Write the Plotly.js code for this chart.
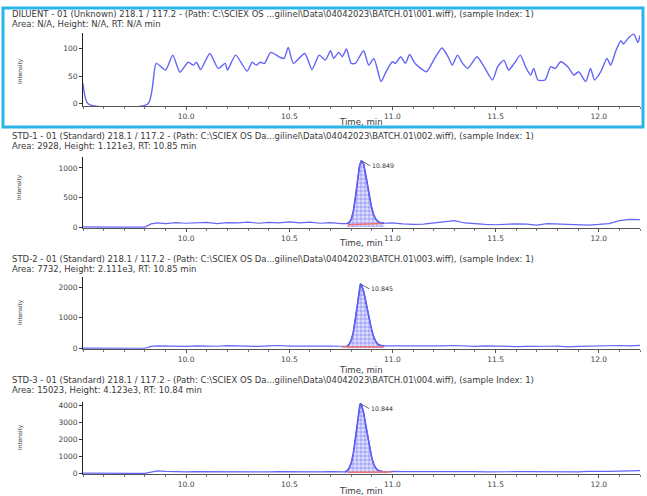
<!DOCTYPE html>
<html>
<head>
<meta charset="utf-8">
<script src="https://cdn.plot.ly/plotly-3.0.1.min.js"></script>
<style>html,body{margin:0;padding:0;background:#fff;}#chart{width:647px;height:496px;}</style>
</head>
<body>
<div id="chart"></div>
<script>
// ---------- DATA ----------
const diluentTime = [9.50, 9.525, 9.815, 9.855, 9.90, 9.935, 9.97, 10.01, 10.035, 10.05,
  10.07, 10.115, 10.155, 10.19, 10.20, 10.24, 10.295, 10.32, 10.34, 10.36,
  10.38, 10.41, 10.455, 10.475, 10.495, 10.52, 10.575, 10.61, 10.645, 10.675,
  10.70, 10.715, 10.74, 10.757, 10.777, 10.80, 10.82, 10.86, 10.885, 10.91,
  10.945, 10.965, 11.00, 11.015, 11.04, 11.063, 11.083, 11.11, 11.165, 11.20,
  11.24, 11.27, 11.29, 11.315, 11.34, 11.365, 11.39, 11.41, 11.44, 11.485,
  11.51, 11.54, 11.563, 11.59, 11.62, 11.645, 11.67, 11.685, 11.705, 11.74,
  11.767, 11.79, 11.815, 11.85, 11.88, 11.903, 11.937, 11.96, 11.98, 12.01,
  12.04, 12.058, 12.083, 12.107, 12.12, 12.146, 12.17, 12.19, 12.20];
const diluentIntensity = [37, 0, 0, 73, 61, 88, 57, 75, 70, 75,
  62, 91, 64, 73, 61, 88, 59, 75, 70, 75,
  73, 93, 84, 82, 102, 73, 91, 62, 88, 79,
  96, 82, 93, 85, 99, 73, 73, 96, 70, 82,
  40, 55, 76, 73, 85, 73, 89, 73, 58, 79,
  101, 85, 70, 88, 73, 64, 76, 85, 70, 43,
  67, 79, 61, 73, 88, 67, 52, 64, 43, 43,
  67, 64, 76, 67, 52, 58, 40, 64, 43, 58,
  82, 70, 96, 114, 108, 120, 126, 111, 124];

const baseTime = [9.50, 9.55, 9.60, 9.65, 9.70, 9.75, 9.80, 9.83, 9.86,
  9.90, 9.95, 10.00, 10.05, 10.10, 10.15, 10.20, 10.25, 10.30, 10.35, 10.40, 10.45, 10.50, 10.55, 10.60, 10.65, 10.70, 10.75,
  11.00, 11.05, 11.10, 11.15, 11.20, 11.25, 11.30, 11.35, 11.40, 11.45, 11.50, 11.55, 11.60, 11.65, 11.70, 11.75, 11.80, 11.85, 11.90, 11.95, 12.00, 12.05, 12.10, 12.15, 12.20];
const std1Base = [5, 0, 0, 0, 0, 0, 0, 55, 70,
  60, 75, 65, 70, 80, 60, 75, 70, 85, 65, 80, 70, 90, 70, 85, 65, 75, 60,
  70, 55, 45, 50, 70, 85, 110, 70, 55, 45, 40, 50, 55, 50, 35, 60, 55, 45, 50, 35, 45, 60, 110, 130, 125];
const std2Base = [5, 0, 0, 0, 0, 0, 0, 60, 80,
  70, 75, 60, 80, 70, 65, 85, 70, 75, 60, 80, 90, 70, 75, 65, 80, 70, 65,
  75, 60, 70, 65, 80, 75, 90, 70, 60, 75, 65, 70, 55, 60, 75, 65, 70, 45, 60, 70, 65, 75, 90, 80, 95];
const std3Base = [10, 0, 0, 0, 0, 0, 0, 90, 150,
  110, 90, 80, 100, 95, 85, 110, 90, 100, 95, 85, 105, 90, 100, 95, 80, 100, 90,
  110, 95, 100, 90, 105, 95, 100, 90, 95, 85, 100, 90, 95, 100, 90, 105, 95, 100, 90, 110, 100, 120, 130, 150, 160];

const std1PeakTime = [10.78, 10.79, 10.80, 10.81, 10.82, 10.83, 10.84, 10.849, 10.86, 10.87, 10.88, 10.89, 10.90, 10.91, 10.92, 10.93, 10.94, 10.96];
const std1PeakIntensity = [60, 80, 130, 260, 480, 760, 1030, 1121, 1070, 900, 680, 470, 310, 200, 130, 95, 75, 65];
const std2PeakTime = [10.78, 10.79, 10.80, 10.81, 10.82, 10.83, 10.84, 10.845, 10.85, 10.86, 10.87, 10.88, 10.89, 10.90, 10.91, 10.92, 10.93, 10.94, 10.96];
const std2PeakIntensity = [70, 130, 260, 520, 930, 1450, 1950, 2111, 2080, 1880, 1560, 1200, 880, 580, 360, 210, 130, 95, 75];
const std3PeakTime = [10.77, 10.78, 10.79, 10.80, 10.81, 10.82, 10.83, 10.84, 10.844, 10.85, 10.86, 10.87, 10.88, 10.89, 10.90, 10.91, 10.92, 10.93, 10.95, 10.97];
const std3PeakIntensity = [90, 150, 300, 600, 1150, 1950, 2950, 3900, 4123, 4050, 3600, 2900, 2150, 1450, 900, 520, 300, 180, 110, 90];

const std1BaselineTime = [10.785, 10.945], std1BaselineIntensity = [40, 60];
const std2BaselineTime = [10.755, 10.955], std2BaselineIntensity = [40, 50];
const std3BaselineTime = [10.785, 10.995], std3BaselineIntensity = [60, 80];

const peakLabels = ["10.849", "10.845", "10.844"];
const xTickVals = [10.0, 10.5, 11.0, 11.5, 12.0];
const xTickText = ["10.0", "10.5", "11.0", "11.5", "12.0"];
const yTicks1 = [0, 50, 100];
const yTicks2 = [0, 500, 1000];
const yTicks3 = [0, 1000, 2000];
const yTicks4 = [0, 1000, 2000, 3000, 4000];

const titles = [
  ["DILUENT - 01 (Unknown) 218.1 / 117.2 - (Path: C:\\SCIEX OS ...gilinel\\Data\\04042023\\BATCH.01\\001.wiff), (sample Index: 1)",
   "Area: N/A, Height: N/A, RT: N/A min"],
  ["STD-1 - 01 (Standard) 218.1 / 117.2 - (Path: C:\\SCIEX OS Da...gilinel\\Data\\04042023\\BATCH.01\\002.wiff), (sample Index: 1)",
   "Area: 2928, Height: 1.121e3, RT: 10.85 min"],
  ["STD-2 - 01 (Standard) 218.1 / 117.2 - (Path: C:\\SCIEX OS Da...gilinel\\Data\\04042023\\BATCH.01\\003.wiff), (sample Index: 1)",
   "Area: 7732, Height: 2.111e3, RT: 10.85 min"],
  ["STD-3 - 01 (Standard) 218.1 / 117.2 - (Path: C:\\SCIEX OS Da...gilinel\\Data\\04042023\\BATCH.01\\004.wiff), (sample Index: 1)",
   "Area: 15023, Height: 4.123e3, RT: 10.84 min"]
];

// ---------- BUILD ----------
function merge(bt, bv, pt, pv) {
  const lo = pt[0], hi = pt[pt.length - 1];
  const pts = [];
  bt.forEach((t, i) => { if (t < lo || t > hi) pts.push([t, bv[i]]); });
  pt.forEach((t, i) => pts.push([t, pv[i]]));
  pts.sort((a, b) => a[0] - b[0]);
  return { x: pts.map(p => p[0]), y: pts.map(p => p[1]) };
}

const W = 647, H = 496, L = 83, R = 7, PW = W - L - R;
const px = x => (x - L) / PW;
const py = y => 1 - y / H;

const lineColor = '#6464f6';
const peakColor = '#4444ee';
const FONT = 'DejaVu Sans, Liberation Sans, Arial, sans-serif';

const traces = [];
traces.push({ x: diluentTime, y: diluentIntensity, type: 'scatter', mode: 'lines',
  line: { color: lineColor, width: 1.4, shape: 'spline', smoothing: 0.6 }, xaxis: 'x', yaxis: 'y', hoverinfo: 'skip' });

const stds = [
  { bv: std1Base, pt: std1PeakTime, pv: std1PeakIntensity, rt: std1BaselineTime, rv: std1BaselineIntensity, ax: '2' },
  { bv: std2Base, pt: std2PeakTime, pv: std2PeakIntensity, rt: std2BaselineTime, rv: std2BaselineIntensity, ax: '3' },
  { bv: std3Base, pt: std3PeakTime, pv: std3PeakIntensity, rt: std3BaselineTime, rv: std3BaselineIntensity, ax: '4' }
];
stds.forEach(s => {
  const xa = 'x' + s.ax, ya = 'y' + s.ax;
  traces.push({ x: s.pt, y: s.pv, type: 'scatter', mode: 'lines', fill: 'tozeroy',
    fillcolor: 'rgba(120,120,255,0.3)',
    fillpattern: { shape: '+', fgcolor: 'rgba(60,60,235,0.85)', bgcolor: 'rgba(160,160,255,0.35)', size: 4, solidity: 0.2 },
    line: { color: peakColor, width: 1.5 }, xaxis: xa, yaxis: ya, hoverinfo: 'skip' });
  const m = merge(baseTime, s.bv, s.pt, s.pv);
  traces.push({ x: m.x, y: m.y, type: 'scatter', mode: 'lines',
    line: { color: lineColor, width: 1.2 }, xaxis: xa, yaxis: ya, hoverinfo: 'skip' });
  traces.push({ x: s.rt, y: s.rv, type: 'scatter', mode: 'lines',
    line: { color: '#f07070', width: 1.6 }, xaxis: xa, yaxis: ya, hoverinfo: 'skip' });
});

const domains = [[py(106), py(33)], [py(228), py(157)], [py(349), py(277)], [py(474), py(402)]];
const ranges = [[-4, 128], [-15, 1185], [-25, 2340], [-40, 4220]];
const yTicks = [yTicks1, yTicks2, yTicks3, yTicks4];

const layout = {
  width: W, height: H,
  margin: { l: L, r: R, t: 0, b: 0 },
  paper_bgcolor: '#fff', plot_bgcolor: '#fff',
  showlegend: false,
  font: { family: FONT, size: 8, color: '#333' },
  annotations: [], shapes: []
};

const suffix = ['', '2', '3', '4'];
for (let i = 0; i < 4; i++) {
  const s = suffix[i];
  layout['xaxis' + s] = {
    anchor: 'y' + s, domain: [0, 1], range: [9.5, 12.2],
    tickvals: xTickVals, ticktext: xTickText, ticks: 'outside', ticklen: 3, tickcolor: '#555',
    minor: { dtick: 0.1, ticks: 'outside', ticklen: 2, tickcolor: '#777' },
    showline: true, linecolor: '#555', linewidth: 1, showgrid: false, zeroline: false,
    tickfont: { family: FONT, size: 7.5, color: '#444' }, fixedrange: true
  };
  layout['yaxis' + s] = {
    anchor: 'x' + s, domain: domains[i], range: ranges[i],
    tickvals: yTicks[i], ticks: 'outside', ticklen: 3, tickcolor: '#333',
    showline: true, linecolor: '#222', linewidth: 1, showgrid: false, zeroline: false,
    tickfont: { family: FONT, size: 7.5, color: '#444' }, fixedrange: true
  };
}

const titleY = [[14, 24], [136, 146], [259, 269], [380, 390]];
const timeY = [122, 243, 370, 491];
const intY = [71, 187, 312, 437];
for (let i = 0; i < 4; i++) {
  layout.annotations.push({ xref: 'paper', yref: 'paper', x: px(10), y: py(titleY[i][0]), xanchor: 'left', yanchor: 'middle',
    text: titles[i][0], showarrow: false, font: { family: FONT, size: 8.5, color: '#3a3a3a' } });
  layout.annotations.push({ xref: 'paper', yref: 'paper', x: px(10), y: py(titleY[i][1]), xanchor: 'left', yanchor: 'middle',
    text: titles[i][1], showarrow: false, font: { family: FONT, size: 8.5, color: '#3a3a3a' } });
  layout.annotations.push({ xref: 'paper', yref: 'paper', x: px(361), y: py(timeY[i]), xanchor: 'center', yanchor: 'middle',
    text: 'Time, min', showarrow: false, font: { family: FONT, size: 8.6, color: '#3a3a3a' } });
  layout.annotations.push({ xref: 'paper', yref: 'paper', x: px(20), y: py(intY[i]), xanchor: 'center', yanchor: 'middle',
    text: 'Intensity', textangle: -90, showarrow: false, font: { family: FONT, size: 5.8, color: '#333' } });
}
const peakPos = [[std1PeakTime[7], std1PeakIntensity[7]], [std2PeakTime[7], std2PeakIntensity[7]], [std3PeakTime[8], std3PeakIntensity[8]]];
for (let i = 0; i < 3; i++) {
  const s = suffix[i + 1];
  layout.annotations.push({ xref: 'x' + s, yref: 'y' + s, x: peakPos[i][0], y: peakPos[i][1],
    text: peakLabels[i], showarrow: true, arrowhead: 0, arrowwidth: 0.8, arrowcolor: '#444',
    ax: 9, ay: 5, xanchor: 'left', yanchor: 'middle', font: { family: FONT, size: 6.3, color: '#333' } });
}
layout.shapes.push({ type: 'rect', xref: 'paper', yref: 'paper', x0: px(3), x1: px(643), y0: py(127), y1: py(8),
  line: { color: '#2ab4e8', width: 3 }, fillcolor: 'rgba(0,0,0,0)' });

Plotly.newPlot('chart', traces, layout, { staticPlot: true, displayModeBar: false });
</script>
</body>
</html>
